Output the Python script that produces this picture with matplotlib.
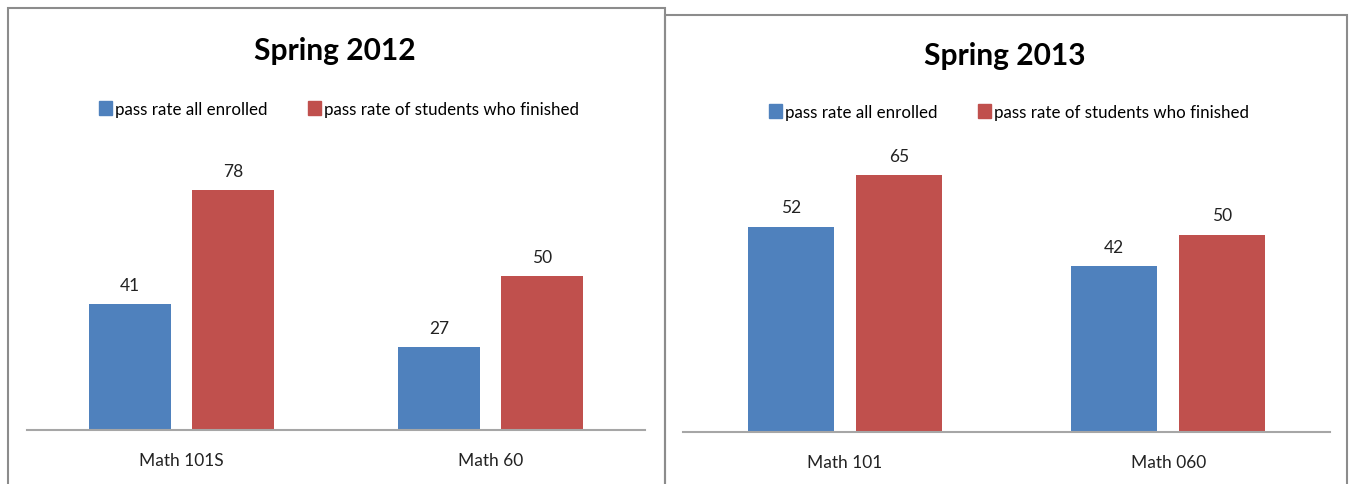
import matplotlib.pyplot as plt
from matplotlib.patches import Rectangle
from matplotlib.patches import Patch

# chart data
series_names = ["pass rate all enrolled", "pass rate of students who finished"]
titles = ["Spring 2012", "Spring 2013"]
courses_2012 = ["Math 101S", "Math 60"]
enrolled_2012 = [41, 27]
finished_2012 = [78, 50]
courses_2013 = ["Math 101", "Math 060"]
enrolled_2013 = [52, 42]
finished_2013 = [65, 50]

BLUE = "#4F81BD"
RED = "#C0504D"
plt.rcParams["font.family"] = ["Lato", "DejaVu Sans"]

W, H = 1353, 485
fig = plt.figure(figsize=(W / 100, H / 100), dpi=100)


def px_box(x0, y_top, x1, y_bot):
    return [x0 / W, 1 - y_bot / H, (x1 - x0) / W, (y_bot - y_top) / H]


# panel frames
for x0, y0, x1 in [(8, 9, 665), (665, 16, 1347)]:
    fig.patches.append(Rectangle((x0 / W, -0.05), (x1 - x0) / W, 1 - y0 / H + 0.05,
                                 transform=fig.transFigure, fill=False,
                                 edgecolor="#8C8C8C", linewidth=1.5))


def draw_panel(box, ymax, courses, enrolled, finished, title, title_x, title_y, leg_x, leg_y):
    ax = fig.add_axes(box)
    xs = list(range(len(courses)))
    w = 0.265
    off = 0.167
    b1 = ax.bar([x - off for x in xs], enrolled, width=w, color=BLUE)
    b2 = ax.bar([x + off for x in xs], finished, width=w, color=RED)
    ax.bar_label(b1, padding=8, fontsize=12.5, color="#222222")
    ax.bar_label(b2, padding=8, fontsize=12.5, color="#222222")
    ax.set_xlim(-0.5, len(courses) - 0.5)
    ax.set_ylim(0, ymax)
    ax.set_yticks([])
    ax.set_xticks(xs)
    ax.set_xticklabels(courses, fontsize=12.5, color="#222222")
    ax.tick_params(axis="x", length=0, pad=16)
    for s in ["top", "left", "right"]:
        ax.spines[s].set_visible(False)
    ax.spines["bottom"].set_color("#A6A6A6")
    ax.spines["bottom"].set_linewidth(1.5)
    fig.text(title_x / W, 1 - title_y / H, title, ha="center", va="center",
             fontsize=21.5, fontweight="bold", color="black")
    handles = [Patch(color=BLUE), Patch(color=RED)]
    fig.legend(handles, series_names, loc="center", ncol=2, frameon=False,
               bbox_to_anchor=(leg_x / W, 1 - leg_y / H), fontsize=12.2,
               handlelength=0.75, handleheight=0.9, handletextpad=0.2,
               columnspacing=2.4)
    return ax


draw_panel(px_box(27, 431 - 90 * 3.08, 645, 431), 90, courses_2012, enrolled_2012,
           finished_2012, titles[0], 335, 51, 339, 110)
draw_panel(px_box(683, 433 - 70 * 3.95, 1330, 433), 70, courses_2013, enrolled_2013,
           finished_2013, titles[1], 1005, 56, 1009, 113)

fig.savefig("out.png", dpi=100)
